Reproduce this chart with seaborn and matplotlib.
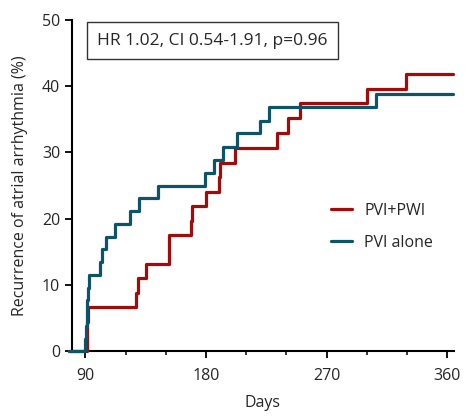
import numpy as np
import pandas as pd
import matplotlib
matplotlib.use("Agg")
import matplotlib.pyplot as plt
import seaborn as sns
from matplotlib.ticker import MultipleLocator

# step data (days, cumulative recurrence %)
pwi_days = [78, 91, 91.5, 92, 128, 129, 135, 152, 152.5, 169, 169.5, 180,
            190, 190.5, 202, 233, 241, 250, 300, 329, 364]
pwi_rec = [0, 2.2, 4.4, 6.6, 8.8, 11.0, 13.1, 15.3, 17.5, 19.7, 21.9, 24.0,
           26.3, 28.4, 30.7, 32.9, 35.2, 37.5, 39.6, 41.8, 41.8]

pvi_days = [78, 90, 90.5, 91, 91.3, 92, 93, 101, 102.5, 105.5, 112, 123, 130,
            144, 179, 186, 193, 203, 220, 227, 307, 364]
pvi_rec = [0, 1.9, 3.8, 5.8, 7.7, 9.6, 11.5, 13.4, 15.4, 17.3, 19.2, 21.1, 23.1,
           25.0, 26.9, 28.8, 30.8, 32.9, 34.7, 36.8, 38.8, 38.8]

groups = ["PVI+PWI", "PVI alone"]
colours = {"PVI+PWI": "#A50A0A", "PVI alone": "#0E5468"}

df = pd.concat([
    pd.DataFrame({"Days": pwi_days, "Recurrence": pwi_rec, "Group": groups[0]}),
    pd.DataFrame({"Days": pvi_days, "Recurrence": pvi_rec, "Group": groups[1]}),
])

sns.set_style("ticks")
plt.rcParams["font.family"] = ["Open Sans", "DejaVu Sans"]

fig, ax = plt.subplots(figsize=(4.65, 4.16), dpi=100)
fig.subplots_adjust(left=0.155, right=0.976, bottom=0.156, top=0.952)

sns.lineplot(data=df, x="Days", y="Recurrence", hue="Group", hue_order=groups,
             palette=colours, estimator=None, drawstyle="steps-post",
             linewidth=2.3, ax=ax)
for line in ax.get_lines():
    line.set_clip_on(False)
    line.set_zorder(3)

ax.set_xlim(80, 365)
ax.set_ylim(0, 50)
ax.set_xticks([90, 180, 270, 360])
ax.xaxis.set_minor_locator(MultipleLocator(30))
ax.set_yticks(np.arange(0, 51, 10))
ax.tick_params(axis="both", which="major", length=5, width=1.3, labelsize=11.5, color="black")
ax.tick_params(axis="x", which="major", pad=7)
ax.tick_params(axis="x", which="minor", length=3, width=1.1, color="black")
for s in ["left", "bottom"]:
    ax.spines[s].set_linewidth(1.5)
    ax.spines[s].set_color("black")
sns.despine(ax=ax)

ax.set_xlabel("Days", fontsize=11.5, labelpad=8)
ax.set_ylabel("Recurrence of atrial arrhythmia (%)", fontsize=11.5, labelpad=10)

ax.text(0.066, 0.937, "HR 1.02, CI 0.54-1.91, p=0.96", transform=ax.transAxes,
        fontsize=12.5, va="center", ha="left",
        bbox=dict(boxstyle="square,pad=0.6", facecolor="white", edgecolor="#333333", linewidth=1))

leg = ax.legend(loc="center left", bbox_to_anchor=(0.64, 0.375), frameon=False,
                fontsize=11.5, handlelength=1.3, handletextpad=0.8, labelspacing=1.0)
for line in leg.get_lines():
    line.set_linewidth(2.3)

plt.savefig("out.png", dpi=100)
